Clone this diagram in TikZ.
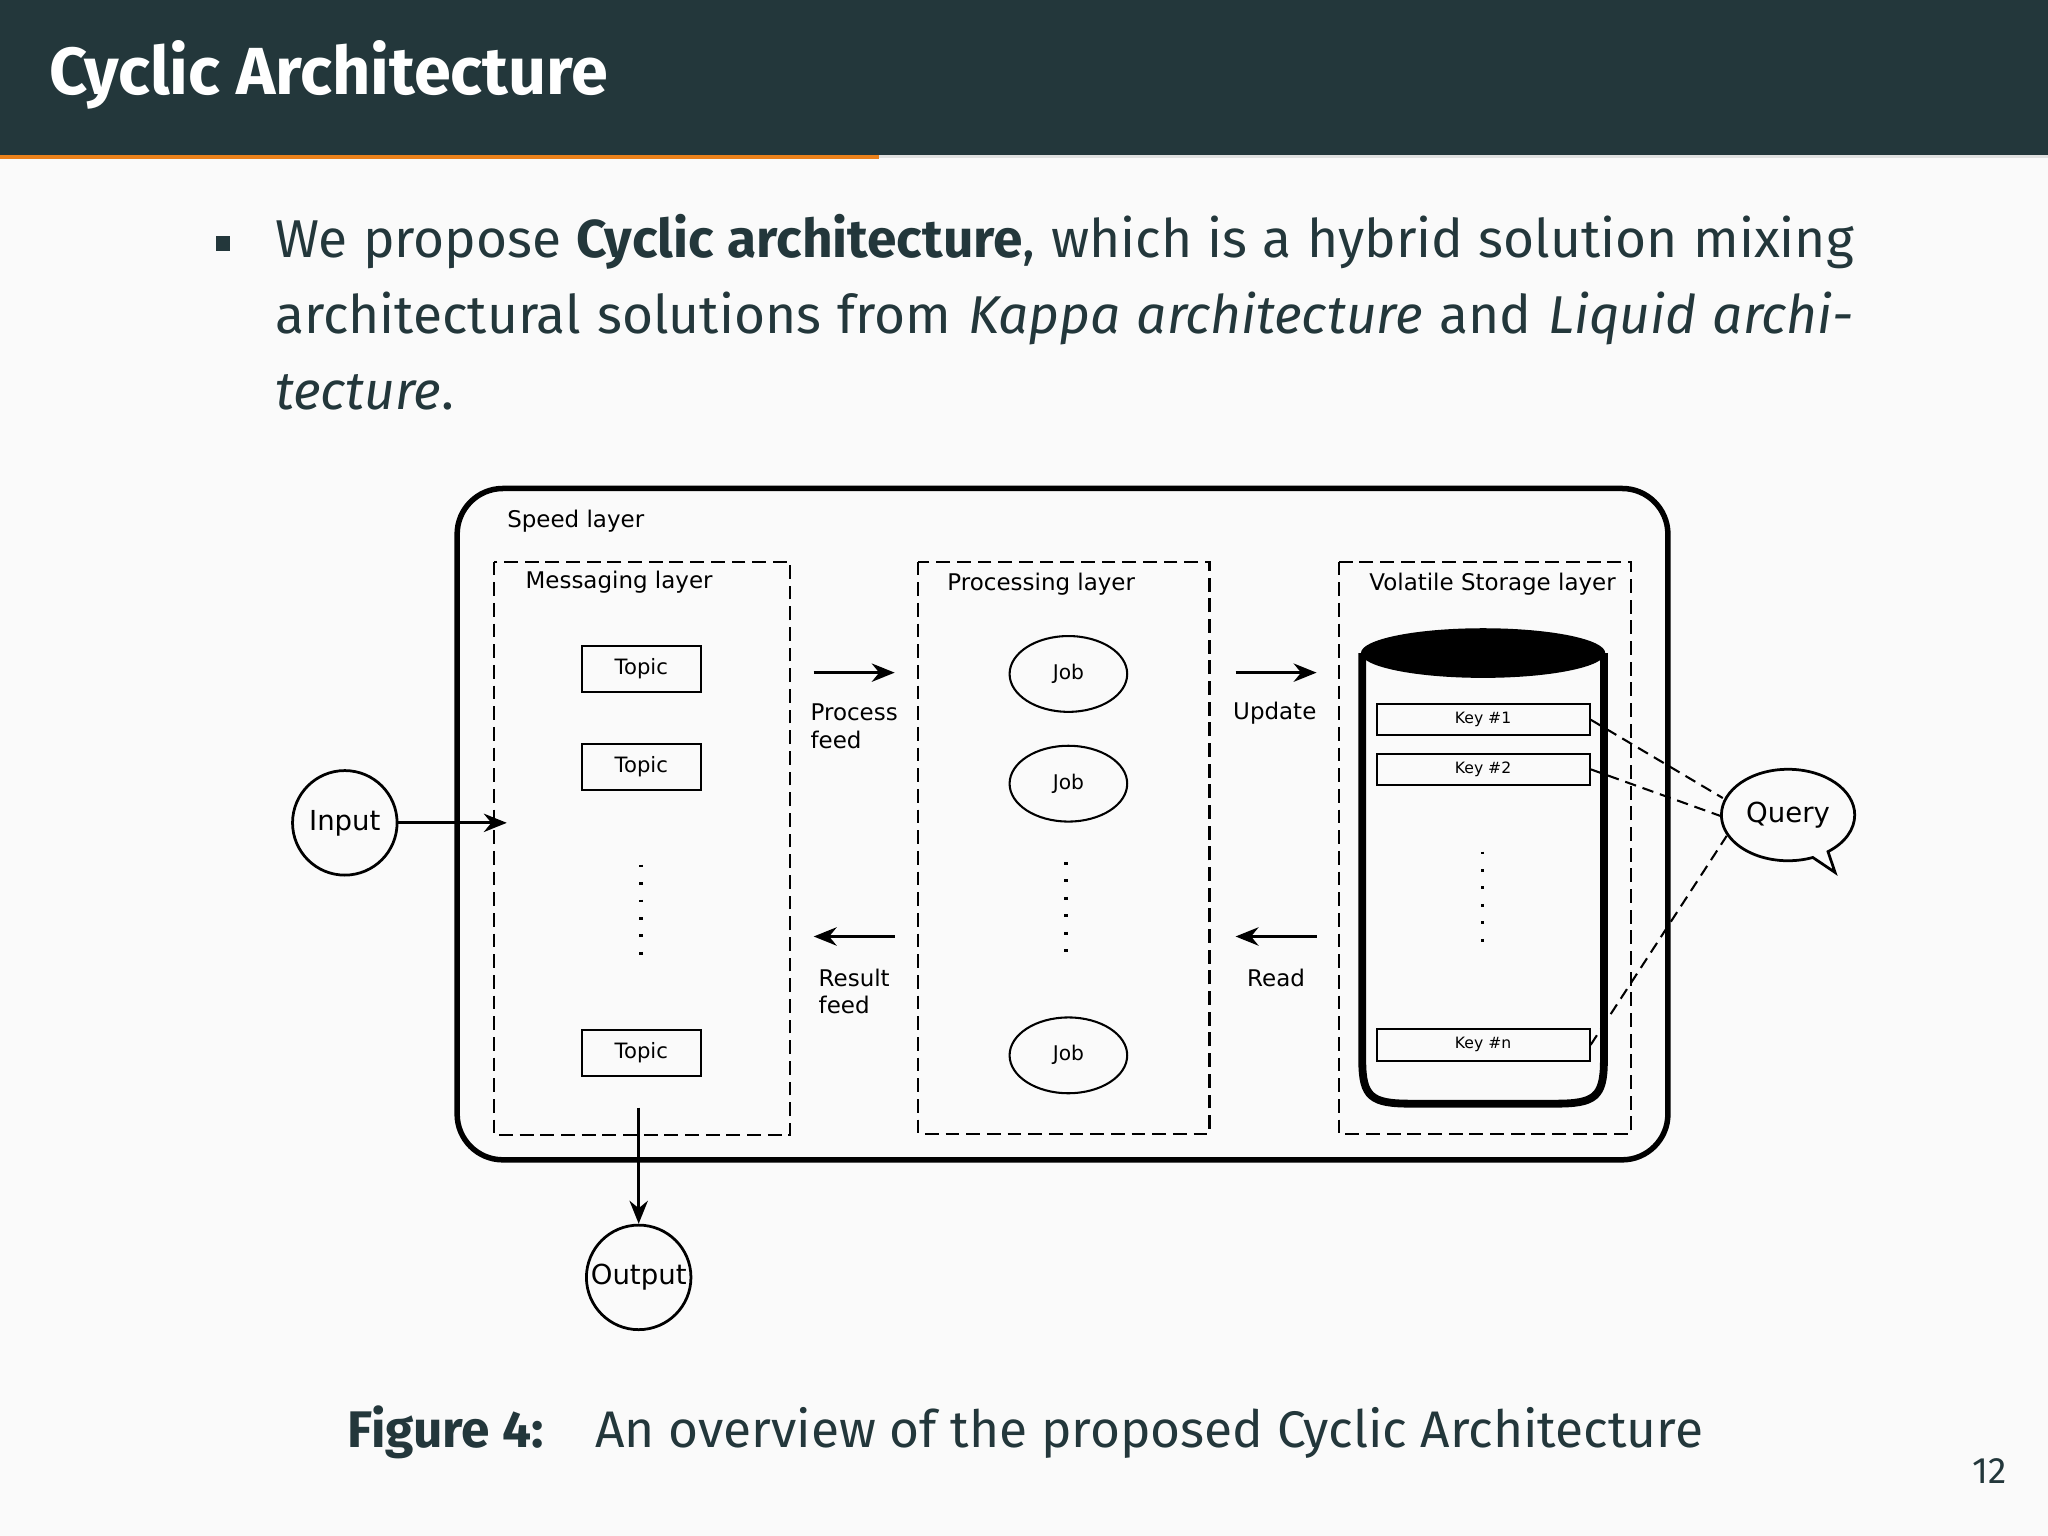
\documentclass[tikz,border=0pt]{standalone}
\usepackage{fontspec}
\setmainfont{Fira Sans}
\newfontfamily\djsans{DejaVu Sans}
\usetikzlibrary{arrows.meta,shapes.geometric,shapes.callouts}
\definecolor{mdark}{HTML}{23373B}
\definecolor{morange}{HTML}{EB811B}
\definecolor{mbg}{HTML}{FAFAFA}
\tikzset{
  lbl/.style={font=\djsans\fontsize{5}{6}\selectfont,align=left},
  dbox/.style={draw,dashed,line width=0.45pt,dash pattern=on 3pt off 1.5pt},
  topic/.style={draw,line width=0.45pt,minimum width=0.91cm,minimum height=0.35cm,font=\djsans\fontsize{4.6}{5}\selectfont,inner sep=0},
  job/.style={draw,ellipse,line width=0.45pt,minimum width=0.9cm,minimum height=0.58cm,font=\djsans\fontsize{4.4}{5}\selectfont,inner sep=0},
  key/.style={draw,line width=0.45pt,minimum width=1.63cm,minimum height=0.24cm,font=\djsans\fontsize{3.4}{4}\selectfont,inner sep=0},
  circ/.style={draw,circle,line width=0.6pt,minimum size=0.8cm,font=\djsans\fontsize{6}{7}\selectfont,inner sep=0},
  arr/.style={-{Stealth[length=5pt,width=4pt]},line width=0.6pt},
  vdots/.style={line width=0.8pt,dash pattern=on 0.6pt off 3.2pt},
  qline/.style={line width=0.45pt,dash pattern=on 2.5pt off 1.5pt}
}
\begin{document}
\begin{tikzpicture}[x=0.01cm,y=-0.01cm]
\fill[mbg] (0,0) rectangle (1568,1176);
\useasboundingbox (0,0) rectangle (1568,1176);
\fill[mdark] (0,0) rectangle (1568,119);
\fill[morange] (0,119) rectangle (673,122);
\fill[black!12] (673,119) rectangle (1568,121);
\node[anchor=base west,text=white,font=\fontsize{14.5}{16}\selectfont\bfseries,inner sep=0] (title) at (37,72) {Cyclic Architecture};
\fill[mdark] (165,181) rectangle (176,192);
\node[anchor=north west,inner sep=0,text width=12.08cm,align=justify,text=mdark,font=\fontsize{11.6}{16.6}\selectfont] (body) at (210,163)
 {We propose \textbf{Cyclic architecture}, which is a hybrid solution mixing architectural solutions from \textit{Kappa architecture} and \textit{Liquid architecture}.};
% speed layer
\draw[line width=1.2pt,rounded corners=0.35cm] (350,374) rectangle (1277,888);
\node[lbl,anchor=west] (sl) at (376,399) {Speed layer};
\draw[dbox] (378,430) rectangle (605,869);
\draw[dbox] (703,430) rectangle (926,868);
\draw[dbox] (1025,430) rectangle (1249,868);
\node[lbl,anchor=west] (ml) at (390,446) {Messaging layer};
\node[lbl,anchor=west] (pl) at (713,447) {Processing layer};
\node[lbl,anchor=west] (vl) at (1036,447) {Volatile Storage layer};
\node[topic] (t1) at (491,512) {Topic};
\node[topic] (t2) at (491,587) {Topic};
\node[topic] (t3) at (491,806) {Topic};
\draw[vdots] (491,662) -- (491,742);
\node[job] (j1) at (818,516) {Job};
\node[job] (j2) at (818,600) {Job};
\node[job] (j3) at (818,808) {Job};
\draw[vdots] (816,660) -- (816,740);
\coordinate (a1) at (623,515); \coordinate (a2) at (685,515);
\coordinate (b1) at (685,717); \coordinate (b2) at (623,717);
\coordinate (c1) at (946,515); \coordinate (c2) at (1008,515);
\coordinate (d1) at (1008,717); \coordinate (d2) at (946,717);
\draw[arr] (a1) -- (a2); \draw[arr] (b1) -- (b2);
\draw[arr] (c1) -- (c2); \draw[arr] (d1) -- (d2);
\node[lbl] (pf) at (654,556) {Process\\ feed};
\node[lbl] (rf) at (654,759) {Result\\ feed};
\node[lbl] (up) at (976,546) {Update};
\node[lbl] (rd) at (977,749) {Read};
% cylinder
\draw[line width=1.7pt] (1043,500) -- (1043,812) .. controls (1043,840) and (1050,845) .. (1080,845) -- (1191,845) .. controls (1221,845) and (1228,840) .. (1228,812) -- (1228,500);
\fill (1135.5,500) ellipse [x radius=93.5, y radius=19];
\node[key] (k1) at (1135.5,551) {Key \#1};
\node[key] (k2) at (1135.5,589) {Key \#2};
\node[key] (kn) at (1135.5,800) {Key \#n};
\draw[vdots] (1135,652) -- (1135,732);
% query
\node[ellipse callout,draw,line width=0.6pt,minimum width=1.02cm,minimum height=0.7cm,callout absolute pointer={(1405,668)},font=\djsans\fontsize{6}{7}\selectfont,inner sep=0] (q) at (1369,624) {Query};
\coordinate (q1) at (1319,611);
\coordinate (q2) at (1318,625);
\coordinate (q3) at (1322,640);
\draw[qline] (k1.east) -- (q1);
\draw[qline] (k2.east) -- (q2);
\draw[qline] (kn.east) -- (q3);
% input/output
\node[circ] (in) at (264,630) {Input};
\coordinate (inend) at (388,630);
\draw[arr] (in) -- (inend);
\node[circ] (out) at (489,978) {Output};
\coordinate (ostart) at (489,848);
\draw[arr] (ostart) -- (out);
\node[text=mdark,font=\fontsize{11.2}{13}\selectfont,inner sep=0] (cap) at (785,1097) {\textbf{Figure 4:}\quad An overview of the proposed Cyclic Architecture};
\node[text=mdark,font=\fontsize{8}{9}\selectfont,inner sep=0] (pg) at (1523,1126) {12};
\end{tikzpicture}
\end{document}
